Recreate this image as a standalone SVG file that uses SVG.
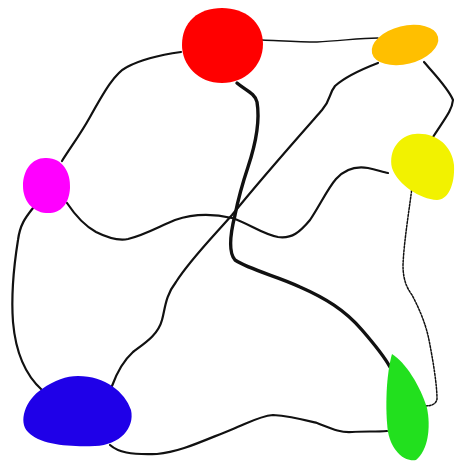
<svg xmlns="http://www.w3.org/2000/svg" width="458" height="464" viewBox="0 0 458 464">
<style>
.e{fill:none;stroke:#111;stroke-width:2.2;stroke-linecap:round;stroke-linejoin:round}
.thin{stroke-width:1.4}
.thick{stroke-width:3.4}
.dot{stroke-width:1.5;stroke-dasharray:2 1.5}
</style>
<rect width="458" height="464" fill="#fff"/>
<g id="connectors">
<path class="e thin" d="M262,40 C285,41 300,42 317,42 C340,41 360,38 378,38"/>
<path class="e" d="M181,52 C160,55 140,60 127,67 C115,73 105,90 90,117 C80,135 70,148 62,161"/>
<path class="e" d="M33,208 C25,218 20,225 18,240 C14,265 11,295 13,322 C15,345 22,372 42,390"/>
<path class="e thick" d="M237,83 C245,90 255,93 257,102 C260,120 257,140 248,167 C242,185 238,200 235,215 C230,235 228,252 235,260 C250,270 280,277 300,287 C325,298 345,310 362,330 C375,345 385,358 390,367"/>
<path class="e" d="M378,63 C365,68 345,77 335,86 C328,95 332,98 322,110 C300,135 260,180 232,215 C210,240 190,260 176,282 C165,296 165,310 162,320 C158,335 145,343 133,352 C122,362 116,375 112,386"/>
<path class="e" d="M424,62 C435,75 448,88 453,100 C452,110 446,117 433,137"/>
<path class="e dot" d="M412,187 C410,205 404,240 403,265 C403,278 406,287 412,295 C420,310 426,325 429,340 C433,360 437,385 437,399 C436,404 432,406 424,406"/>
<path class="e" d="M67,203 C75,215 85,226 96,232 C108,238 118,241 128,239 C145,235 160,226 175,220 C195,213 215,214 232,218 C250,224 262,234 278,237 C292,239 300,232 310,220 C320,205 328,188 336,179 C345,169 356,166 368,168 C377,170 383,172 388,173"/>
<path class="e" d="M110,445 C118,452 130,455 157,454 C180,452 200,442 233,429 C250,422 260,416 273,415 C290,416 305,420 317,423 C330,428 340,433 352,432 C365,431 375,432 387,431"/>
</g>
<g id="red"><path d="M222,8 C245,8 263,22 263,44 C263,66 245,83 222,83 C198,83 182,65 182,45 C182,22 198,8 222,8 Z" fill="#ff0000"/></g>
<g id="orange"><ellipse cx="405" cy="45" rx="34" ry="19" transform="rotate(-14 405 45)" fill="#ffbf00"/></g>
<g id="yellow"><path d="M415,134 C435,132 452,145 454,165 C455,185 448,200 437,200 C420,199 398,185 392,168 C388,150 400,135 415,134 Z" fill="#f2f200"/></g>
<g id="magenta"><path d="M45,158 C62,157 71,172 70,188 C69,205 60,214 46,213 C32,212 23,200 23,186 C23,170 32,158 45,158 Z" fill="#ff00ff"/></g>
<g id="blue"><path d="M78,376 C105,376 125,392 131,410 C135,428 120,445 95,446 C70,447 40,445 28,432 C18,422 25,400 42,389 C55,380 66,376 78,376 Z" fill="#1f00e8"/></g>
<g id="green"><path d="M392,354 C405,362 420,385 427,408 C431,428 428,450 416,460 C405,462 392,452 388,432 C385,410 386,375 392,354 Z" fill="#22e01e"/></g>
</svg>
